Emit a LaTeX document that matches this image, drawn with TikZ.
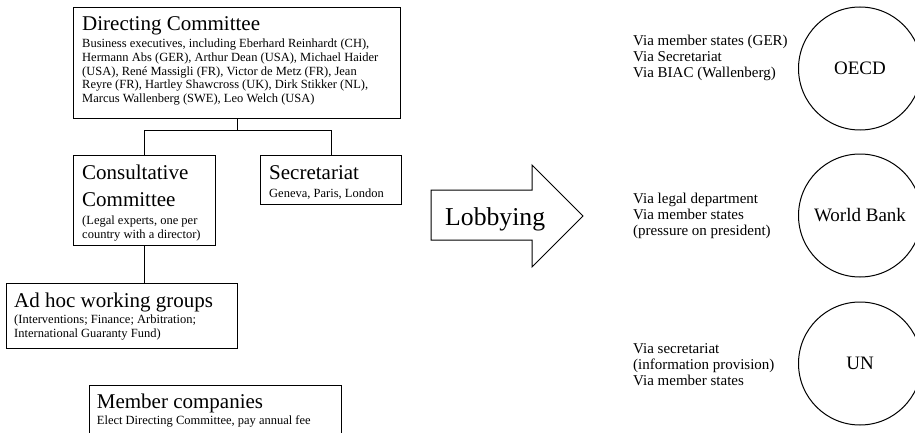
\documentclass[tikz,border=0pt]{standalone}
\usepackage{fontspec}
\setmainfont{Liberation Serif}
\begin{document}
\begin{tikzpicture}[x=1pt,y=-1pt,
  box/.style={draw,line width=1pt,inner sep=0pt,anchor=north west},
  hd/.style={anchor=base west,inner sep=0pt,font=\fontsize{21}{27}\selectfont},
  bd/.style={anchor=base west,inner sep=0pt,font=\fontsize{12.5}{13.6}\selectfont},
  via/.style={anchor=base west,inner sep=0pt,font=\fontsize{15}{16}\selectfont},
  org/.style={draw,circle,line width=1pt,minimum size=123pt,inner sep=0pt,font=\fontsize{19}{19}\selectfont},
  link/.style={line width=1pt}]
\useasboundingbox (0,0) rectangle (915,433);
\clip (0,0) rectangle (915,433);
% boxes
\node[box,minimum width=327pt,minimum height=111pt] (dc) at (73,7) {};
\node[box,minimum width=142pt,minimum height=90pt] (cc) at (73,155) {};
\node[box,minimum width=141pt,minimum height=49pt] (sec) at (260,155) {};
\node[box,minimum width=231pt,minimum height=65pt] (ah) at (6,283) {};
\node[box,minimum width=252pt,minimum height=70pt] (mc) at (89,385) {};
% box texts
\node[hd] (dch) at (82,31) {Directing Committee};
\node[bd] (dcb) at (82,48) {\parbox[t]{400pt}{Business executives, including Eberhard Reinhardt (CH),\\
Hermann Abs (GER), Arthur Dean (USA), Michael Haider\\
(USA), René Massigli (FR), Victor de Metz (FR), Jean\\
Reyre (FR), Hartley Shawcross (UK), Dirk Stikker (NL),\\
Marcus Wallenberg (SWE), Leo Welch (USA)}};
\node[hd] (cch) at (82,179) {\parbox[t]{200pt}{Consultative\\Committee}};
\node[bd] (ccb) at (82,224.7) {\parbox[t]{200pt}{(Legal experts, one per\\country with a director)}};
\node[hd] (sech) at (269,179) {Secretariat};
\node[bd] (secb) at (269,197) {Geneva, Paris, London};
\node[hd] (ahh) at (14,307.3) {Ad hoc working groups};
\node[bd] (ahb) at (14,323.5) {\parbox[t]{300pt}{(Interventions; Finance; Arbitration;\\International Guaranty Fund)}};
\node[hd] (mch) at (96.7,408.3) {Member companies};
\node[bd] (mcb) at (96.7,424.3) {Elect Directing Committee, pay annual fee};
% connectors
\draw[link] (dc.south) -- ++(0,12) coordinate (j) -| (cc.north);
\draw[link] (j) -| (sec.north);
\draw[link] (cc.south) -- (cc.south |- ah.north);
% lobbying arrow
\draw[link] (431,190) -- (532,190) -- (532,165) -- (583,216) -- (532,267) -- (532,240) -- (431,240) -- cycle;
\node[anchor=base west,inner sep=0pt,font=\fontsize{25.7}{26}\selectfont] (lob) at (445,225) {Lobbying};
% targets
\node[org] (oecd) at (860,68.5) {OECD};
\node[org] (wb) at (860,215.5) {World Bank};
\node[org] (un) at (860,363.5) {UN};
\node[via] (v1) at (633,46) {\parbox[t]{200pt}{Via member states (GER)\\Via Secretariat\\Via BIAC (Wallenberg)}};
\node[via] (v2) at (633,203) {\parbox[t]{200pt}{Via legal department\\Via member states\\(pressure on president)}};
\node[via] (v3) at (633,353) {\parbox[t]{200pt}{Via secretariat\\(information provision)\\Via member states}};
\end{tikzpicture}
\end{document}
